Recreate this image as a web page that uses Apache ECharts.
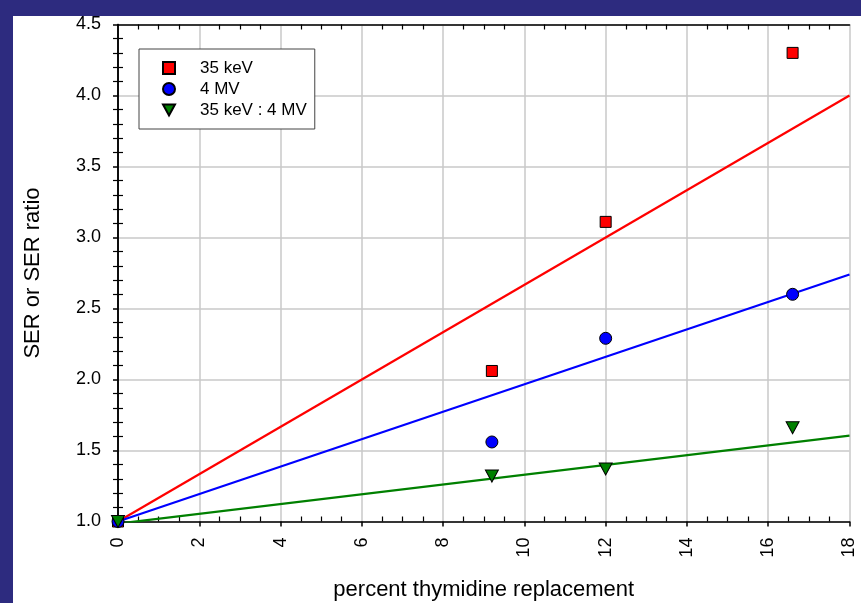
<!DOCTYPE html>
<html><head><meta charset="utf-8">
<script src="https://cdn.jsdelivr.net/npm/echarts@6/dist/echarts.min.js"></script>
<style>html,body{margin:0;padding:0;background:#2D2B7F}#c{width:861px;height:603px}</style>
</head><body><div id="c"></div>
<script>
const xTicks = [0,2,4,6,8,10,12,14,16,18];
const yTicks = ['1.0','1.5','2.0','2.5','3.0','3.5','4.0','4.5'];
const kevData = [[0,1.0],[9.2,2.06],[12,3.11],[16.6,4.30]];
const mvData = [[0,1.0],[9.2,1.56],[12,2.29],[16.6,2.60]];
const ratioData = [[0,1.0],[9.2,1.32],[12,1.37],[16.6,1.66]];
const kevFit = [[0,1.0],[18,4.0]];
const mvFit = [[0,1.0],[18,2.74]];
const ratioFit = [[0,0.985],[18,1.605]];
const names = ['35 keV','4 MV','35 keV : 4 MV'];

const font = 'Liberation Sans, Arial, sans-serif';
const chart = echarts.init(document.getElementById('c'), null, {renderer:'canvas'});
const gridLine = {show:true, lineStyle:{color:'#C8C8C8', width:1.5}};
const axisLine = {show:true, lineStyle:{color:'#000', width:1.5}};
const minorX = {show:true, splitNumber:4, length:5, lineStyle:{color:'#000', width:1.2}};
const minorY = {show:true, splitNumber:5, length:5, lineStyle:{color:'#000', width:1.2}};
const hiddenBits = {axisLabel:{show:false}, splitLine:{show:false}, axisTick:{show:false, inside:true}};
const triPath = 'path://M0,0 L12,0 L6,11 Z';
chart.setOption({
  backgroundColor:'#2D2B7F',
  animation:false,
  graphic:[{type:'rect', left:13, top:16, shape:{width:848, height:587}, style:{fill:'#fff'}, z:-10}],
  grid:{left:118, top:24.5, width:731.5, height:497, containLabel:false, outerBoundsMode:'none'},
  xAxis:[{
    type:'value', min:0, max:18, interval:2, position:'bottom',
    name:'percent thymidine replacement', nameLocation:'middle', nameGap:57,
    nameTextStyle:{fontFamily:font, fontSize:22, color:'#000'},
    axisLine:axisLine,
    axisTick:{show:true, inside:false, length:5, lineStyle:{color:'#000', width:1.5}},
    minorTick:{show:false},
    splitLine:gridLine,
    axisLabel:{rotate:90, margin:16, fontFamily:font, fontSize:18, color:'#000',
      formatter:v=>xTicks.includes(v)?String(v):''}
  },Object.assign({
    type:'value', min:0, max:18, interval:2, position:'top',
    axisLine:axisLine, minorTick:minorX
  }, hiddenBits),Object.assign({
    type:'value', min:0, max:18, interval:2, position:'bottom',
    axisLine:{show:false}, minorTick:minorX
  }, hiddenBits)],
  yAxis:[{
    type:'value', min:1.0, max:4.5, interval:0.5, position:'left',
    name:'SER or SER ratio', nameLocation:'middle', nameGap:74,
    nameTextStyle:{fontFamily:font, fontSize:22, color:'#000'},
    axisLine:axisLine,
    axisTick:{show:true, inside:false, length:5, lineStyle:{color:'#000', width:1.5}},
    minorTick:{show:false},
    splitLine:gridLine,
    axisLabel:{margin:17, fontFamily:font, fontSize:18, color:'#000',
      formatter:v=>{const s=v.toFixed(1);return yTicks.includes(s)?s:'';}}
  },Object.assign({
    type:'value', min:1.0, max:4.5, interval:0.5, position:'right',
    axisLine:axisLine, minorTick:minorY
  }, hiddenBits),Object.assign({
    type:'value', min:1.0, max:4.5, interval:0.5, position:'left',
    axisLine:{show:false}, minorTick:minorY
  }, hiddenBits)],
  legend:{
    orient:'vertical', left:139, top:49,
    padding:[10.5,8,10.5,23], itemGap:4, itemWidth:12, itemHeight:12,
    borderColor:'#444', borderWidth:1, backgroundColor:'#fff',
    data:[{name:names[0]},{name:names[1]},{name:names[2], icon:triPath}],
    textStyle:{fontFamily:font, fontSize:17, lineHeight:17, color:'#000', padding:[0,0,0,20]}
  },
  series:[
    {type:'line', data:kevFit, symbol:'none', lineStyle:{color:'#FF0000', width:2.2}, z:2, silent:true},
    {type:'line', data:mvFit, symbol:'none', lineStyle:{color:'#0000FF', width:2.2}, z:2, silent:true},
    {type:'line', data:ratioFit, symbol:'none', lineStyle:{color:'#008000', width:2.2}, z:2, silent:true},
    {type:'scatter', name:names[0], data:kevData, symbol:'rect', symbolSize:11,
      itemStyle:{color:'#FF0000', borderColor:'#000', borderWidth:1, opacity:1}, z:5},
    {type:'scatter', name:names[1], data:mvData, symbol:'circle', symbolSize:12,
      itemStyle:{color:'#0000FF', borderColor:'#000', borderWidth:1, opacity:1}, z:5},
    {type:'scatter', name:names[2], data:ratioData, symbol:'triangle', symbolRotate:180, symbolSize:[13,12],
      itemStyle:{color:'#008000', borderColor:'#000', borderWidth:1, opacity:1}, z:5}
  ]
});
</script></body></html>
